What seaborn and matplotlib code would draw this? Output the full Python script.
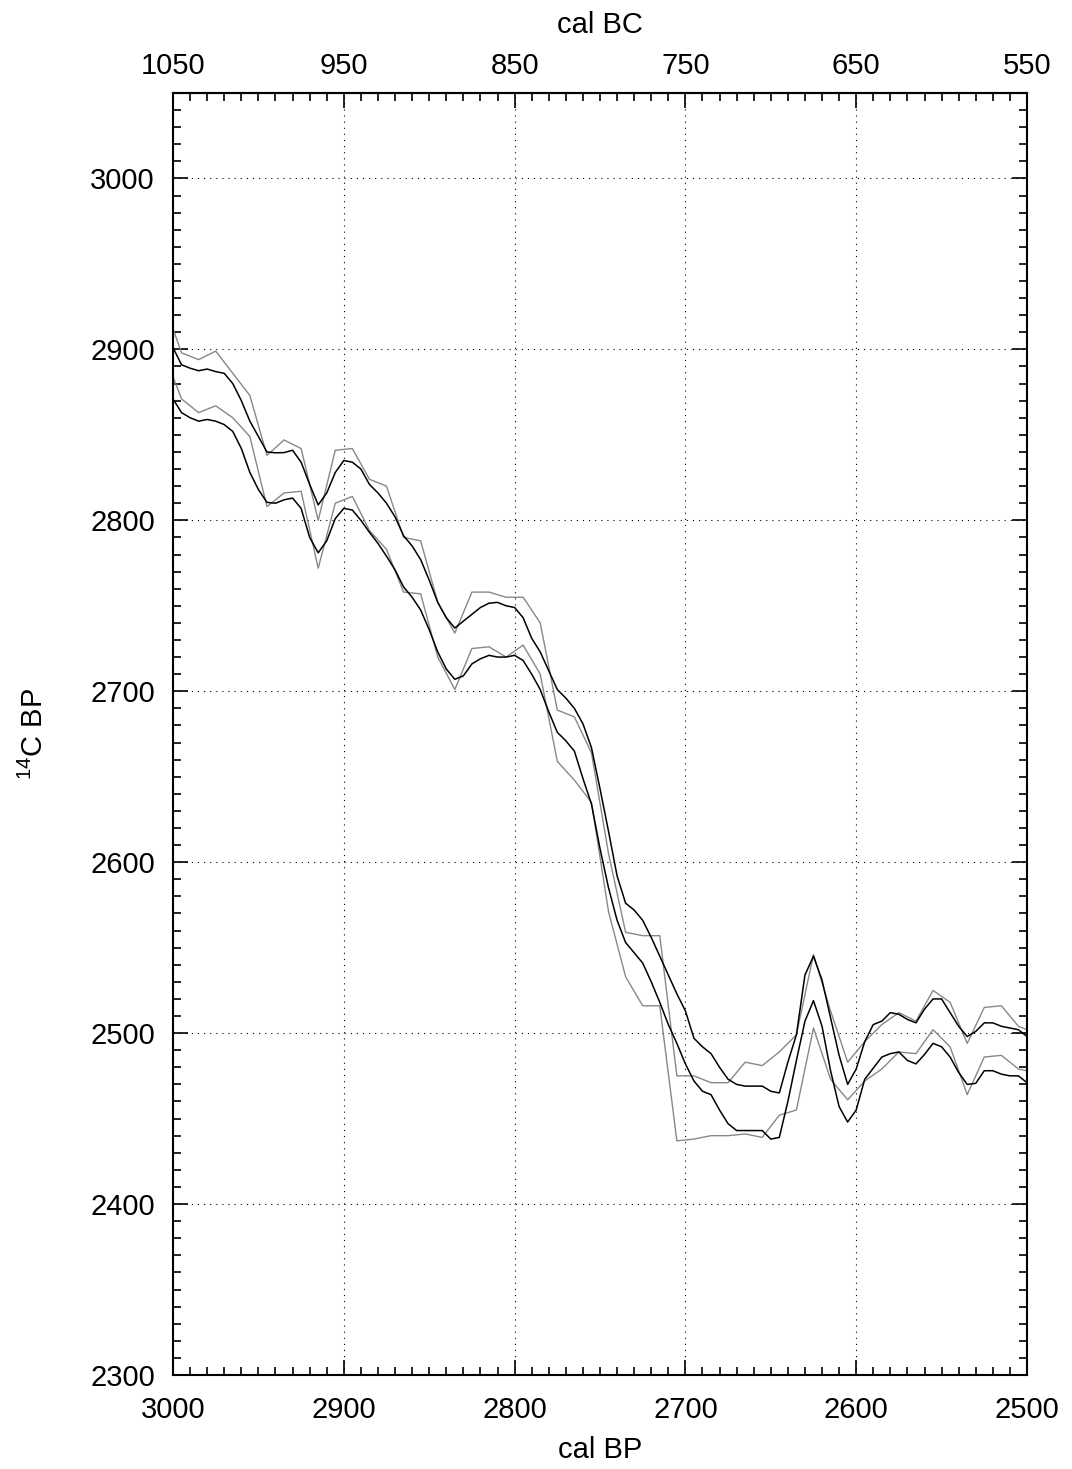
import numpy as np
import pandas as pd
import matplotlib
matplotlib.use('Agg')
import matplotlib.pyplot as plt
from matplotlib.ticker import MultipleLocator, FixedLocator
import seaborn as sns

# gray curve (10-yr vertices), upper and lower bounds
gray_bp = [3000, 2995, 2985, 2975, 2965, 2955, 2945, 2935, 2925, 2915, 2905, 2895, 2885, 2875,
           2865, 2855, 2845, 2835, 2825, 2815, 2805, 2795, 2785, 2775, 2765, 2755, 2745, 2735,
           2725, 2715, 2705, 2695, 2685, 2675, 2665, 2655, 2645, 2635, 2625, 2615, 2605, 2595,
           2585, 2575, 2565, 2555, 2545, 2535, 2525, 2515, 2505, 2495]
gray_upper = [2912, 2898, 2894, 2899, 2886, 2873, 2838, 2847, 2842, 2800, 2841, 2842, 2824, 2820,
              2790, 2788, 2752, 2734, 2758, 2758, 2755, 2755, 2740, 2689, 2685, 2664, 2605, 2559,
              2557, 2557, 2475, 2475, 2471, 2471, 2483, 2481, 2489, 2499, 2546, 2513, 2483, 2495,
              2505, 2512, 2507, 2525, 2518, 2494, 2515, 2516, 2504, 2500]
gray_lower = [2884, 2871, 2863, 2867, 2860, 2849, 2808, 2816, 2817, 2772, 2810, 2814, 2794, 2783,
              2758, 2757, 2720, 2701, 2725, 2726, 2720, 2727, 2710, 2659, 2648, 2635, 2571, 2533,
              2516, 2516, 2437, 2438, 2440, 2440, 2441, 2439, 2452, 2455, 2503, 2473, 2461, 2472,
              2479, 2489, 2488, 2502, 2492, 2464, 2486, 2487, 2479, 2477]

# black curve (5-yr steps), upper and lower bounds
black_bp = list(range(3000, 2495, -5))
black_upper = [2901, 2891, 2889, 2887.5, 2888.5, 2887, 2886, 2880, 2870, 2858, 2849, 2840, 2839.5,
               2839.6, 2841, 2834, 2821, 2809, 2816, 2828, 2835, 2834, 2830, 2821, 2816, 2810,
               2802, 2791, 2785, 2777, 2765, 2752, 2743, 2737, 2741, 2745, 2749, 2751.5, 2752,
               2750, 2749, 2743, 2731, 2723, 2712, 2701, 2696, 2690, 2681, 2667, 2643, 2618,
               2592, 2576, 2572, 2566, 2556, 2545, 2534, 2523, 2513, 2497, 2492, 2488, 2480,
               2473, 2470, 2469, 2469, 2469, 2466, 2465, 2483, 2499, 2534, 2545, 2531, 2509,
               2487, 2470, 2479, 2495, 2505, 2507, 2512, 2511, 2508, 2506, 2514, 2520, 2520,
               2512, 2504, 2498, 2501, 2506, 2506, 2504, 2503, 2502, 2498]
black_lower = [2871, 2863, 2860, 2858, 2859, 2858, 2856, 2852, 2842, 2828, 2818, 2810.5, 2810,
               2812, 2813, 2807, 2790, 2781, 2788, 2801, 2807, 2806, 2800, 2793, 2786.5, 2779,
               2771, 2761, 2755, 2747.5, 2736, 2723, 2713, 2707, 2709, 2716, 2719, 2721, 2720,
               2720, 2721, 2718, 2710, 2701, 2688, 2676, 2671, 2665, 2649, 2634, 2608, 2585,
               2566, 2553, 2547, 2541, 2530, 2518, 2505, 2494, 2482, 2472, 2466, 2464, 2455,
               2447, 2443, 2443, 2443, 2443, 2438, 2439, 2460, 2484, 2507, 2519, 2504, 2478,
               2457, 2448, 2455, 2473, 2479.5, 2486, 2488, 2489, 2484, 2482, 2487.5, 2494, 2492,
               2486, 2477, 2470, 2470.6, 2478, 2478, 2476, 2475, 2475, 2471]

# tick labels
bp_ticks = [3000, 2900, 2800, 2700, 2600, 2500]
bc_ticks = [1050, 950, 850, 750, 650, 550]
c14_ticks = [2300, 2400, 2500, 2600, 2700, 2800, 2900, 3000]

gray_df = pd.DataFrame({'bp': gray_bp, 'upper': gray_upper, 'lower': gray_lower})
black_df = pd.DataFrame({'bp': black_bp, 'upper': black_upper, 'lower': black_lower})

sns.set_style('white')
plt.rcParams['font.family'] = ['Liberation Sans', 'DejaVu Sans']
plt.rcParams['mathtext.default'] = 'regular'
plt.rcParams['text.color'] = 'black'
plt.rcParams['axes.labelcolor'] = 'black'
plt.rcParams['xtick.color'] = 'black'
plt.rcParams['ytick.color'] = 'black'

fig = plt.figure(figsize=(10.72, 14.69), dpi=100)
ax = fig.add_axes([0.1614, 0.064, 0.958 - 0.1614, 0.9367 - 0.064])

# draw curves
for col in ['upper', 'lower']:
    sns.lineplot(data=gray_df, x='bp', y=col, ax=ax, color='#888888', lw=1.0,
                 estimator=None, sort=False)
for col in ['upper', 'lower']:
    sns.lineplot(data=black_df, x='bp', y=col, ax=ax, color='black', lw=1.1,
                 estimator=None, sort=False)

ax.set_xlim(3000, 2500)
ax.set_ylim(2300, 3050)

ax.xaxis.set_major_locator(FixedLocator(bp_ticks))
ax.xaxis.set_minor_locator(MultipleLocator(10))
ax.yaxis.set_major_locator(FixedLocator(c14_ticks))
ax.yaxis.set_minor_locator(MultipleLocator(10))
ax.tick_params(which='both', direction='in', left=True, right=True, bottom=True, top=False,
               width=1.2, colors='black')
ax.tick_params(which='major', length=11, labelsize=21)
ax.tick_params(which='minor', length=5.5)
ax.tick_params(axis='x', which='major', pad=15)
ax.tick_params(axis='y', which='major', pad=13)

ax.grid(True, which='major', color='black', linestyle=(0, (1, 4.5)), linewidth=0.8)

for sp in ax.spines.values():
    sp.set_linewidth(1.5)
    sp.set_color('black')

ax.set_xlabel('cal BP', fontsize=21, labelpad=9)
ax.set_ylabel('$^{14}$C BP', fontsize=21, labelpad=30)

# top axis in cal BC
sec = ax.secondary_xaxis('top', functions=(lambda x: x - 1950, lambda x: x + 1950))
sec.xaxis.set_major_locator(FixedLocator(bc_ticks))
sec.xaxis.set_minor_locator(MultipleLocator(10))
sec.tick_params(which='both', direction='in', width=1.2, colors='black')
sec.tick_params(which='major', length=11, labelsize=21, pad=9)
sec.tick_params(which='minor', length=5.5)
sec.spines['top'].set_linewidth(1.5)
sec.set_xlabel('cal BC', fontsize=21, labelpad=14)

fig.savefig('out.png', dpi=100)
